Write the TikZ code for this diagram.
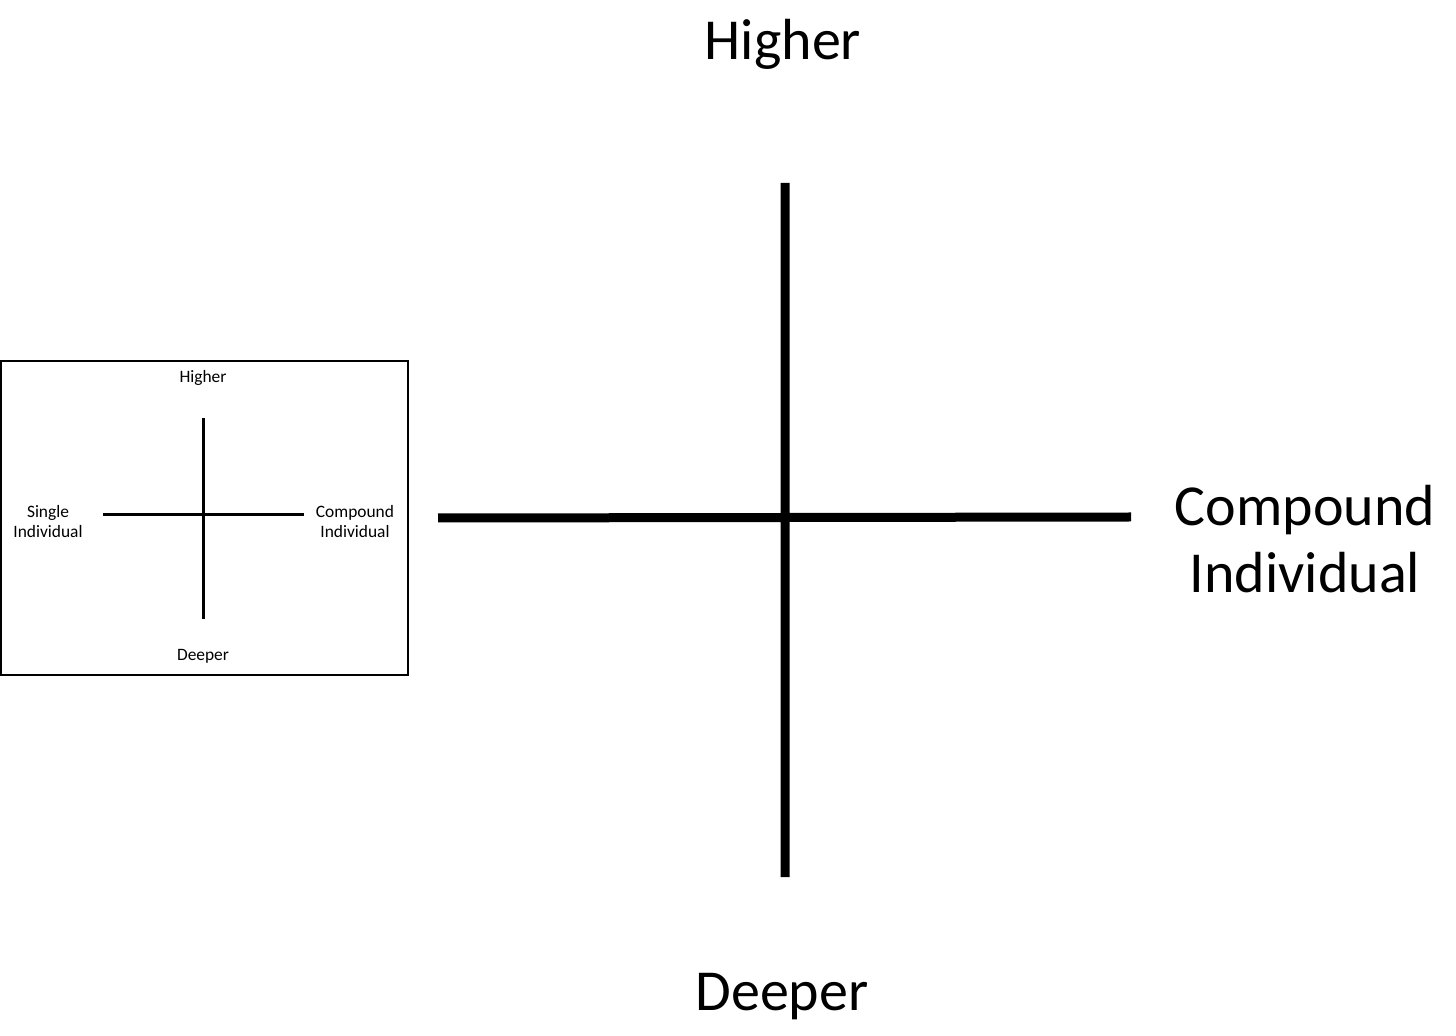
\documentclass[tikz,border=0pt]{standalone}
\usepackage{fontspec}
\setmainfont{Carlito}
\usetikzlibrary{positioning}

\begin{document}
\begin{tikzpicture}[x=0.5pt,y=-0.5pt,
    bigaxis/.style={line width=4.5pt,black},
    smallaxis/.style={line width=1.5pt,black},
    biglabel/.style={align=center,inner sep=0pt,font=\fontsize{29}{33.5}\selectfont},
    smalllabel/.style={align=center,inner sep=0pt,font=\fontsize{8.7}{10}\selectfont}]
    \useasboundingbox (0,0) rectangle (1456,1036);
    % Add the small framed picture
        \node[draw,
              line width=0.75pt,
              minimum width=203.5pt,
              minimum height=157pt,
              inner sep=0pt
              ] (frame) at (204.5,518) {};
        \coordinate (st) at (203,418);
        \coordinate (sb) at (203,619);
        \coordinate (sl) at (103,515);
        \coordinate (sr) at (304,515);
		\node[smalllabel] (shigh) at (203,378) {Higher};
		\node[smalllabel] (sdeep) at (203,656) {Deeper};
		\node[smalllabel] (ssingle) at (48,522) {Single\\Individual};
		\node[smalllabel] (scomp) at (355,522) {Compound\\Individual};
    % Add the big picture
        \coordinate (bt) at (785,183);
        \coordinate (bb) at (785,877);
        \coordinate (bl) at (438,518);
        \coordinate (br) at (1131,517);
		\node[biglabel] (bhigh) at (783,44) {Higher};
		\node[biglabel] (bdeep) at (782,997) {Deeper};
		\node[biglabel] (bcomp) at (1305,539) {Compound\\Individual};

       \draw[smallaxis]
			(st) -- (sb)
			(sl) -- (sr);
       \draw[bigaxis]
			(bt) -- (bb)
			(bl) -- (br);
    \end{tikzpicture}
\end{document}
